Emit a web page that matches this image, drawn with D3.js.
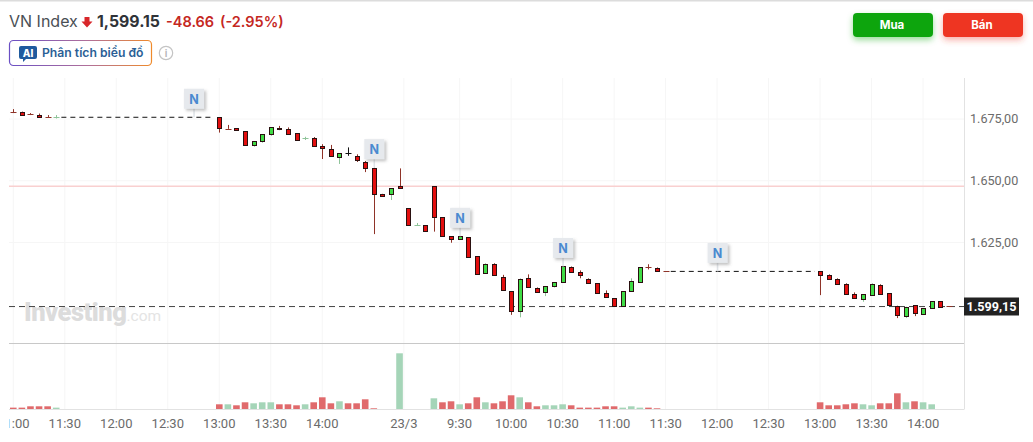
<!DOCTYPE html>
<html>
<head>
<meta charset="utf-8">
<script src="https://cdn.jsdelivr.net/npm/d3@7"></script>
<style>
  html, body { margin: 0; padding: 0; background: #fff; overflow: hidden; }
  text { font-family: Inter, "Noto Sans", sans-serif; }
  .axis_text { font-family: Roboto, sans-serif; font-size: 13px; fill: #6b6b6b; }
  .price_label { font-size: 12.6px; }
</style>
</head>
<body>
<div id="chart"></div>
<script>

// candles, one slot is five minutes of trading
var slots = [0,1,2,3,4,5,
  24,25,26,27,28,29,30,31,32,33,34,35,36,37,38,39,40,41,42,43,44,45,
  46,47,48,49,50,51,52,53,54,55,56,57,58,59,60,61,62,63,64,65,66,67,68,69,70,71,72,73,74,75,76,
  94,95,96,97,98,99,100,101,102,103,104,105,106,107,108,109];

var opens = [1677.9,1678.0,1677.1,1676.6,1675.9,1675.7,
  1675.7,1671.1,1671.2,1670.0,1664.3,1665.8,1668.8,1671.2,1670.8,1669.2,1667.1,1667.2,1663.9,1662.7,1659.3,1661.3,1659.9,1657.5,1655.3,1644.7,1644.3,1647.7,
  1638.8,1631.9,1632.0,1647.7,1635.2,1627.5,1626.3,1627.1,1619.4,1612.5,1616.2,1610.9,1605.2,1597.1,1610.5,1606.4,1604.8,1607.2,1608.9,1614.9,1612.9,1610.1,1608.5,1604.4,1602.4,1599.1,1605.2,1608.9,1615.2,1614.5,1613.3,
  1613.3,1611.7,1610.1,1608.1,1604.0,1602.0,1603.6,1607.7,1604.4,1599.4,1595.5,1599.5,1595.9,1598.3,1601.2,1599.2];

var closes = [1677.7,1676.8,1677.0,1675.6,1675.8,1675.8,
  1671.1,1671.0,1670.4,1664.3,1666.0,1668.8,1671.6,1670.7,1668.6,1666.2,1667.2,1663.8,1663.0,1659.7,1661.1,1661.3,1658.1,1654.9,1644.9,1643.9,1646.9,1646.8,
  1631.8,1632.0,1629.5,1635.2,1627.5,1626.3,1627.5,1619.0,1612.1,1616.2,1611.7,1605.6,1597.1,1610.1,1606.8,1604.8,1607.2,1608.9,1615.3,1612.9,1611.7,1608.5,1604.4,1602.8,1599.1,1605.2,1609.3,1614.9,1615.1,1613.3,1613.2,
  1611.7,1610.1,1608.1,1604.0,1602.4,1604.0,1608.1,1604.0,1599.5,1595.9,1599.0,1596.3,1598.3,1601.2,1598.7,1599.15];

var highs = [1679.0,1678.0,1677.4,1677.2,1676.6,1676.6,
  1675.7,1672.6,1671.2,1670.0,1666.0,1668.8,1671.6,1672.2,1671.6,1669.2,1667.8,1667.7,1664.8,1664.5,1661.1,1663.5,1660.7,1658.0,1655.3,1644.7,1646.9,1655.0,
  1638.8,1632.9,1632.0,1647.7,1635.2,1627.5,1627.5,1627.1,1619.4,1616.6,1616.6,1611.9,1605.2,1610.5,1612.1,1606.8,1607.2,1608.9,1615.3,1615.3,1613.7,1610.5,1608.5,1605.6,1602.4,1605.2,1610.5,1614.9,1616.2,1614.9,1613.3,
  1613.3,1612.1,1610.5,1608.5,1604.8,1604.0,1608.5,1608.1,1604.4,1599.4,1599.0,1599.5,1598.3,1601.2,1601.2,1599.2];

var lows = [1677.4,1676.8,1676.6,1675.4,1675.4,1675.2,
  1669.5,1671.0,1670.4,1664.3,1663.8,1665.4,1668.2,1670.5,1668.6,1666.2,1666.5,1663.8,1658.8,1659.7,1656.8,1660.1,1657.6,1653.5,1628.4,1643.9,1642.2,1646.8,
  1631.8,1631.7,1629.5,1629.4,1627.5,1624.9,1626.3,1619.0,1612.1,1612.5,1611.7,1605.6,1595.7,1594.7,1606.8,1604.8,1603.3,1606.8,1608.9,1612.9,1610.5,1608.5,1604.4,1602.8,1599.1,1599.1,1605.2,1608.9,1614.1,1613.3,1613.2,
  1603.7,1610.1,1608.1,1604.0,1602.4,1601.0,1603.6,1604.0,1599.5,1594.4,1594.4,1595.2,1595.9,1598.3,1598.7,1599.15];

// volume, relative units
var vol_slots = [0,1,2,3,4,5,
  24,25,26,27,28,29,30,31,32,33,34,35,36,37,38,39,40,41,42,45,
  49,50,51,52,53,54,55,56,57,58,59,60,61,62,63,64,65,66,67,68,69,70,71,72,73,74,75,
  94,95,96,97,98,99,100,101,102,103,104,105,106,107];

var vol_values = [5,5,9,9,9,5,
  15,15,12,21,18,21,21,15,15,12,15,21,36,18,24,18,18,30,3,168,
  33,21,24,15,18,36,21,18,24,42,36,21,9,12,12,15,12,5,5,5,9,9,5,9,5,5,3,
  21,12,12,15,18,15,12,18,18,48,21,24,21,15];

var vol_up = [0,0,0,0,0,1,
  0,1,0,0,1,1,1,0,0,0,1,0,0,0,1,0,0,0,0,1,
  1,0,0,1,0,0,1,0,0,0,1,0,0,1,1,1,0,0,0,0,0,0,1,1,1,0,0,
  0,0,0,0,0,1,1,0,0,0,1,0,1,1];

var tick_slots = [0,6,12,18,24,30,36,45.5,52,58,64,70,76,82,88,94,100,106];
var tick_labels = ['11:00','11:30','12:00','12:30','13:00','13:30','14:00','23/3','9:30','10:00','10:30','11:00','11:30','12:00','12:30','13:00','13:30','14:00'];

var price_ticks = [1675,1650,1625];
var prev_close = 1647.81;
var last_price = 1599.15;

// lunch gaps, flat price from the slot before to the slot after
var gap_slots = [[5.6,23.4],[76.6,93.4]];
var gap_prices = [1675.7,1613.3];

var news_slots = [21,42,52,64,82];
var news_prices = [1675.7,1655.3,1627.5,1615.3,1613.3];

var width = 1033;
var height = 442;
var plot_left = 9;
var plot_right = 964;

var x_scale = d3.scaleLinear().domain([0,109]).range([13.3,13.3+109*8.583]);
var y_scale = d3.scaleLinear().domain([1675,1625]).range([119,242.5]);
var vol_scale = d3.scaleLinear().domain([0,168]).range([409.3,353.3]);

var comma_format = d3.formatLocale({decimal:',',thousands:'.',grouping:[3],currency:['','']}).format(',.2f');

var svg = d3.select('#chart')
  .append('svg')
  .attr('width',width)
  .attr('height',height)
  .style('display','block');

var defs = svg.append('defs');

defs.append('clipPath')
  .attr('id','plot_clip')
  .append('rect')
  .attr('x',plot_left)
  .attr('y',60)
  .attr('width',plot_right-plot_left)
  .attr('height',382);

var ai_grad = defs.append('linearGradient')
  .attr('id','ai_grad');
ai_grad.append('stop').attr('offset','0%').attr('stop-color','#6a4fc4');
ai_grad.append('stop').attr('offset','55%').attr('stop-color','#b0709a');
ai_grad.append('stop').attr('offset','100%').attr('stop-color','#ef8a2b');

function add_shadow(id, color, dy, blur){
  var f = defs.append('filter')
    .attr('id',id)
    .attr('x','-30%').attr('y','-30%')
    .attr('width','160%').attr('height','180%');
  f.append('feDropShadow')
    .attr('dx',dy > 2 ? 0 : 2)
    .attr('dy',dy)
    .attr('stdDeviation',blur)
    .attr('flood-color',color)
    .attr('flood-opacity',0.4);
}
add_shadow('news_shadow','#666',2,1.5);
add_shadow('buy_shadow','#0ea50e',3,3);
add_shadow('sell_shadow','#ee3524',3,3);

// top edge of the page
svg.append('rect')
  .attr('width',width)
  .attr('height',1.5)
  .attr('fill','#dcdcdc');

/* header */
var header = svg.append('g');

header.append('text')
  .attr('x',9).attr('y',27)
  .style('font-size','16px')
  .attr('fill','#4a4f55')
  .text('VN Index');

header.append('path')
  .attr('d','M84.5 17h5v4.5h3l-5.5 6-5.5-6h3z')
  .attr('fill','#d8262a');

header.append('text')
  .attr('x',97).attr('y',27)
  .style('font-size','15.8px')
  .style('font-weight',700)
  .attr('fill','#2f3338')
  .text('1,599.15');

header.append('text')
  .attr('x',166).attr('y',27)
  .style('font-size','14.5px')
  .style('font-weight',600)
  .attr('fill','#c5281f')
  .text('-48.66');

header.append('text')
  .attr('x',220).attr('y',27)
  .style('font-size','14.5px')
  .style('font-weight',600)
  .attr('fill','#c5281f')
  .text('(-2.95%)');

header.append('rect')
  .attr('x',9.5).attr('y',40.5)
  .attr('width',142).attr('height',25)
  .attr('rx',4)
  .attr('fill','#fff')
  .attr('stroke','url(#ai_grad)')
  .attr('stroke-width',1.2);

header.append('path')
  .attr('d','M21 46h14a2 2 0 0 1 2 2v9a2 2 0 0 1-2 2h-9l-3 3v-3h-2a2 2 0 0 1-2-2v-9a2 2 0 0 1 2-2z')
  .attr('fill','#1f5a9e');

header.append('text')
  .attr('x',28).attr('y',56.5)
  .attr('text-anchor','middle')
  .style('font-size','10px')
  .style('font-weight',800)
  .attr('fill','#fff')
  .text('AI');

header.append('text')
  .attr('x',42).attr('y',57)
  .style('font-size','12.2px')
  .style('font-weight',600)
  .attr('fill','#2b5f96')
  .text('Phân tích biểu đồ');

header.append('circle')
  .attr('cx',166).attr('cy',53)
  .attr('r',6.7)
  .attr('fill','none')
  .attr('stroke','#c4c4c4')
  .attr('stroke-width',1.2);

header.append('text')
  .attr('x',166).attr('y',57)
  .attr('text-anchor','middle')
  .style('font-size','10px')
  .style('font-weight',600)
  .attr('fill','#b4b4b4')
  .text('i');

var buttons = [['Mua',853,'#0ea50e','buy_shadow'],['Bán',943,'#ee3524','sell_shadow']];

buttons.forEach(function(d){
  header.append('rect')
    .attr('x',d[1]).attr('y',13)
    .attr('width',80).attr('height',24)
    .attr('rx',4)
    .attr('fill',d[2])
    .attr('filter','url(#'+d[3]+')');
  header.append('text')
    .attr('x',d[1]+39).attr('y',29)
    .attr('text-anchor','middle')
    .style('font-size','11.5px')
    .style('font-weight',700)
    .attr('fill','#fff')
    .text(d[0]);
});

/* grid and frame */
var plot = svg.append('g')
  .attr('clip-path','url(#plot_clip)');

plot.selectAll('.v_grid')
  .data(tick_slots)
  .enter()
  .append('line')
  .classed('v_grid',true)
  .attr('x1',function(d){ return x_scale(d); })
  .attr('x2',function(d){ return x_scale(d); })
  .attr('y1',78)
  .attr('y2',409)
  .attr('stroke','#f6f6f6');

plot.selectAll('.h_grid')
  .data(price_ticks)
  .enter()
  .append('line')
  .classed('h_grid',true)
  .attr('x1',plot_left)
  .attr('x2',plot_right)
  .attr('y1',function(d){ return y_scale(d); })
  .attr('y2',function(d){ return y_scale(d); })
  .attr('stroke','#f6f6f6');

// watermark
var mark = plot.append('text')
  .attr('x',24).attr('y',321)
  .attr('fill','#dcdcdc');
mark.append('tspan')
  .style('font-family','Roboto, sans-serif')
  .style('font-size','25.5px')
  .style('font-weight',900)
  .attr('letter-spacing','-0.5')
  .text('Investing');
mark.append('tspan')
  .style('font-family','Roboto, sans-serif')
  .style('font-size','15.5px')
  .attr('fill','#e4e4e4')
  .text('.com');

plot.append('line')
  .attr('x1',plot_left).attr('x2',plot_right)
  .attr('y1',y_scale(prev_close)).attr('y2',y_scale(prev_close))
  .attr('stroke','#f9d0d0')
  .attr('stroke-width',1.5);

plot.append('line')
  .attr('x1',plot_left).attr('x2',plot_right)
  .attr('y1',y_scale(last_price)+0.2).attr('y2',y_scale(last_price)+0.2)
  .attr('stroke','#444')
  .attr('stroke-dasharray','6,4');

plot.selectAll('.gap_line')
  .data(gap_slots)
  .enter()
  .append('line')
  .classed('gap_line',true)
  .attr('x1',function(d){ return x_scale(d[0]); })
  .attr('x2',function(d){ return x_scale(d[1]); })
  .attr('y1',function(d,i){ return y_scale(gap_prices[i]); })
  .attr('y2',function(d,i){ return y_scale(gap_prices[i]); })
  .attr('stroke','#111')
  .attr('stroke-dasharray','5,4');

svg.append('line')
  .attr('x1',plot_left).attr('x2',plot_right)
  .attr('y1',343.5).attr('y2',343.5)
  .attr('stroke','#c8c8c8');

svg.append('line')
  .attr('x1',plot_left).attr('x2',plot_right)
  .attr('y1',409.5).attr('y2',409.5)
  .attr('stroke','#e2e2e2');

svg.append('line')
  .attr('x1',plot_right+0.5).attr('x2',plot_right+0.5)
  .attr('y1',78).attr('y2',409.5)
  .attr('stroke','#e2e2e2');

/* volume */
plot.selectAll('.vol_bar')
  .data(vol_slots)
  .enter()
  .append('rect')
  .classed('vol_bar',true)
  .attr('x',function(d){ return x_scale(d)-3.3; })
  .attr('width',6.6)
  .attr('y',function(d,i){ return vol_scale(vol_values[i]); })
  .attr('height',function(d,i){ return vol_scale(0)-vol_scale(vol_values[i]); })
  .attr('fill',function(d,i){ return vol_up[i] ? '#a5d5b8' : '#e06a6c'; });

/* candles */
function wick_color(i){
  if (opens[i] == closes[i]){ return '#111'; }
  return closes[i] > opens[i] ? '#8fc49a' : '#8f3328';
}

var candles = plot.selectAll('.candle')
  .data(slots)
  .enter()
  .append('g')
  .classed('candle',true);

candles.append('line')
  .attr('x1',function(d){ return Math.round(x_scale(d))+0.5; })
  .attr('x2',function(d){ return Math.round(x_scale(d))+0.5; })
  .attr('y1',function(d,i){ return y_scale(highs[i]); })
  .attr('y2',function(d,i){ return y_scale(lows[i]); })
  .attr('stroke',function(d,i){ return wick_color(i); });

candles.each(function(d,i){
  var top = y_scale(Math.max(opens[i],closes[i]));
  var bottom = y_scale(Math.min(opens[i],closes[i]));
  var cx = Math.round(x_scale(d))+0.5;

  // flat candle is only a dash
  if (bottom-top < 0.6){
    d3.select(this).append('line')
      .attr('x1',cx-3).attr('x2',cx+3)
      .attr('y1',Math.round(top)+0.5).attr('y2',Math.round(top)+0.5)
      .attr('stroke',wick_color(i));
    return;
  }

  d3.select(this).append('rect')
    .attr('x',cx-2)
    .attr('y',Math.round(top)+0.5)
    .attr('width',4)
    .attr('height',Math.max(1,Math.round(bottom-top)))
    .attr('fill',closes[i] > opens[i] ? '#3fdc46' : '#e30e0e')
    .attr('stroke','#2a1010');
});

/* news flags */
var flags = plot.selectAll('.news_flag')
  .data(news_slots)
  .enter()
  .append('g')
  .classed('news_flag',true)
  .attr('transform',function(d,i){
    return 'translate('+(x_scale(d)+0.5)+','+y_scale(news_prices[i])+')';
  });

flags.append('line')
  .attr('y1',-10).attr('y2',0)
  .attr('stroke','#dfe3e7')
  .attr('stroke-width',1.5);

flags.append('rect')
  .attr('x',-10).attr('y',-28.5)
  .attr('width',20).attr('height',20)
  .attr('fill','#e6e9ed')
  .attr('filter','url(#news_shadow)');

flags.append('text')
  .attr('y',-13.5)
  .attr('text-anchor','middle')
  .style('font-size','12.5px')
  .style('font-weight',700)
  .attr('fill','#4a8ad0')
  .text('N');

/* axes */
plot.selectAll('.time_label')
  .data(tick_slots)
  .enter()
  .append('text')
  .classed('time_label',true)
  .classed('axis_text',true)
  .attr('x',function(d){ return x_scale(d); })
  .attr('y',427.5)
  .attr('text-anchor','middle')
  .text(function(d,i){ return tick_labels[i]; });

svg.selectAll('.price_label')
  .data(price_ticks)
  .enter()
  .append('text')
  .classed('price_label',true)
  .classed('axis_text',true)
  .attr('x',970)
  .attr('y',function(d){ return y_scale(d)+4; })
  .text(function(d){ return comma_format(d); });

svg.append('rect')
  .attr('x',964).attr('y',297.5)
  .attr('width',55).attr('height',18)
  .attr('fill','#222');

svg.append('text')
  .attr('x',991.5)
  .attr('y',311)
  .attr('text-anchor','middle')
  .style('font-family','Roboto, sans-serif')
  .style('font-size','12.6px')
  .style('font-weight',700)
  .attr('fill','#fff')
  .text(comma_format(last_price));

</script>
</body>
</html>
